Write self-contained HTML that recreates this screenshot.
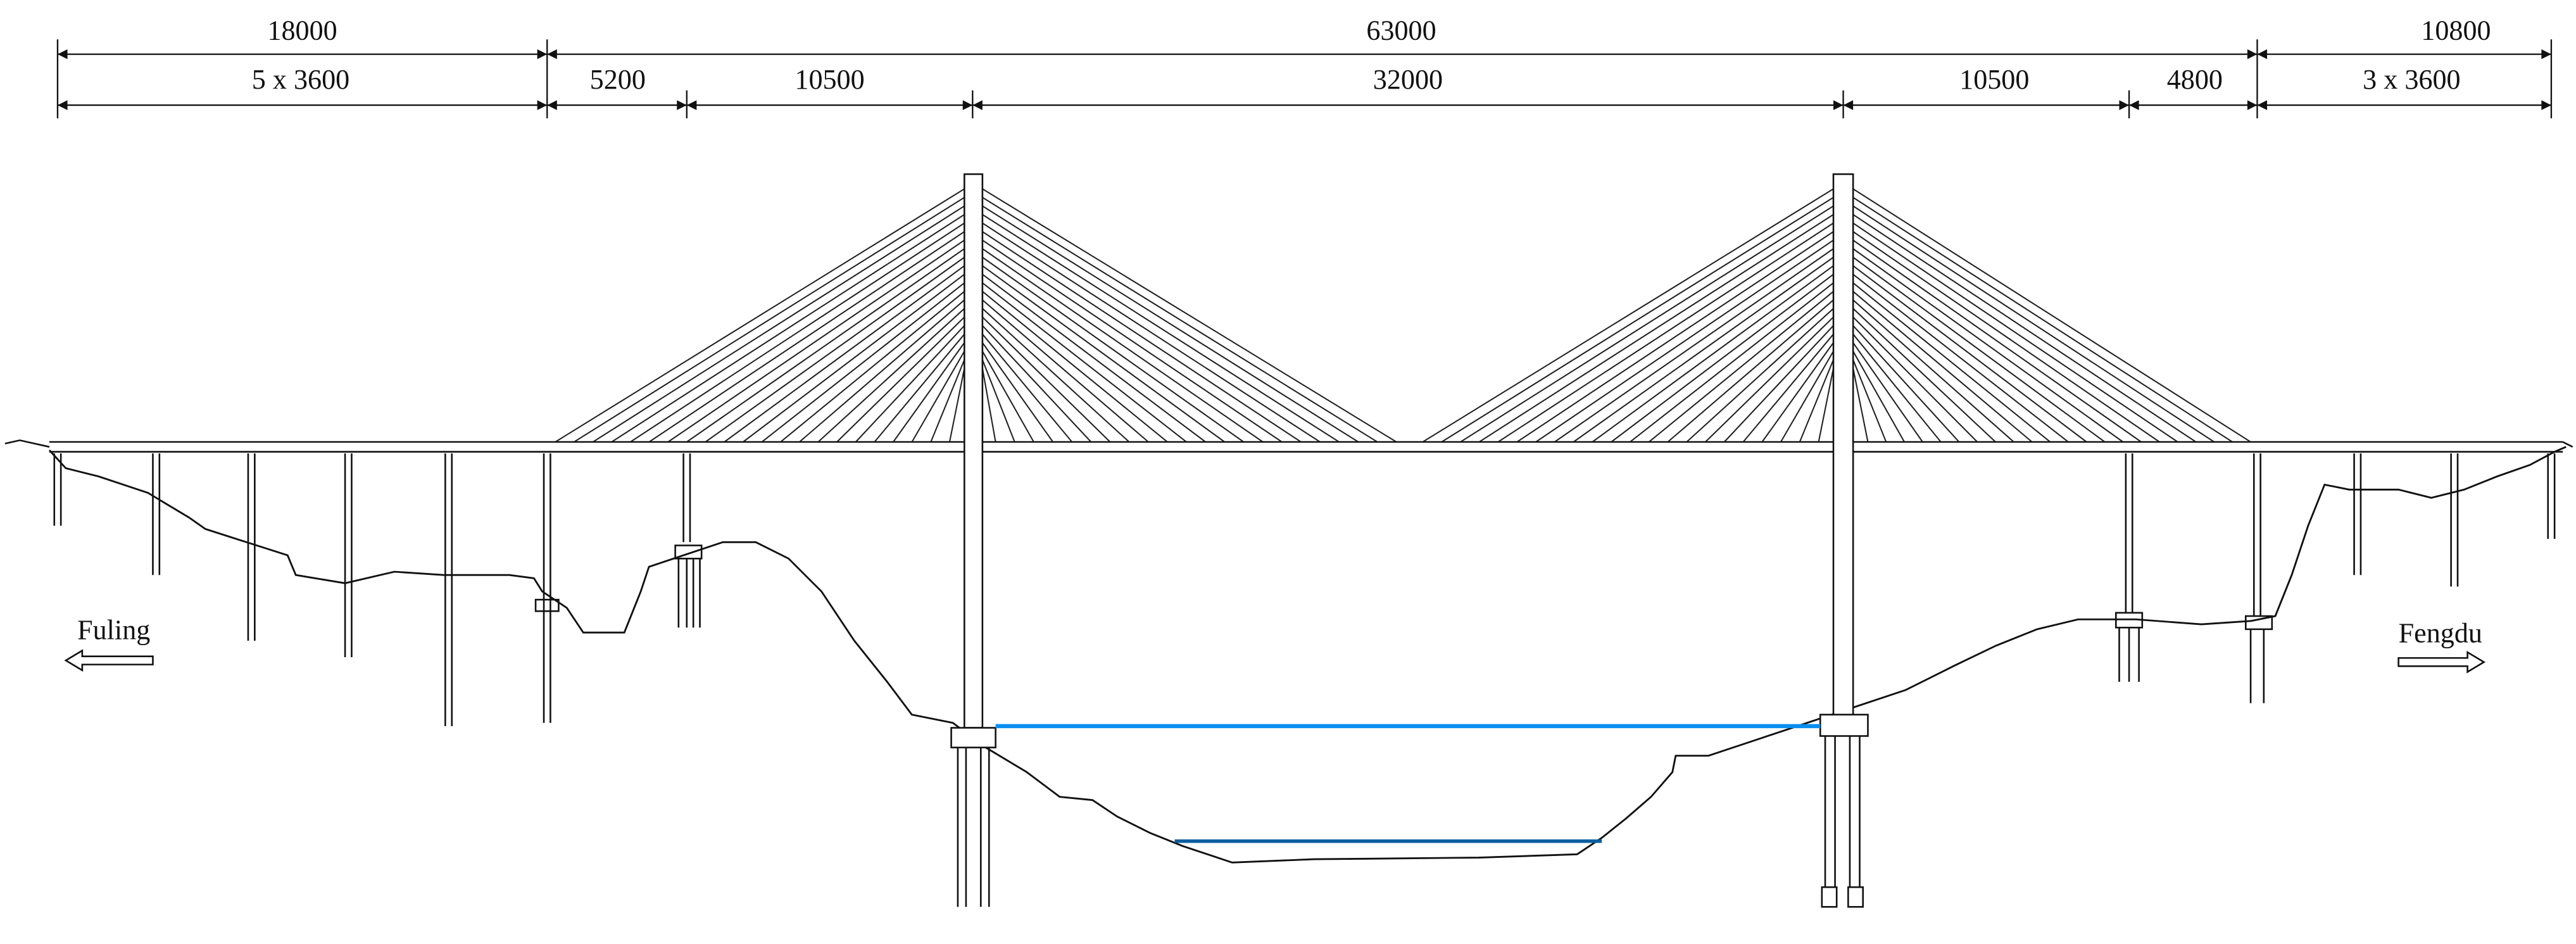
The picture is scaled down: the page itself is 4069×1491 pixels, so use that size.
<!DOCTYPE html>
<html><head><meta charset="utf-8"><style>
html,body{margin:0;padding:0;background:#fff;}
svg{display:block;}
text{font-family:"Liberation Serif",serif;font-size:17px;fill:#111;}
</style></head><body>
<svg id="s" width="4069" height="1491" viewBox="0 0 1568 574.6" xmlns="http://www.w3.org/2000/svg">
<defs>
<marker id="a" viewBox="0 0 10 10" refX="10" refY="5" markerWidth="7" markerHeight="6" orient="auto-start-reverse" markerUnits="userSpaceOnUse"><path d="M0,0 L10,5 L0,10z" fill="#111"/></marker>
</defs>
<g stroke="#111" stroke-width="0.9" fill="none">
<path d="M35,24V72 M333,24V72 M418,55V72 M592,55V72 M1122,55V72 M1296,55V72 M1374,24V72 M1553,24V72"/>
<line x1="35" y1="33" x2="333" y2="33" marker-start="url(#a)" marker-end="url(#a)"/>
<line x1="333" y1="33" x2="1374" y2="33" marker-start="url(#a)" marker-end="url(#a)"/>
<line x1="1374" y1="33" x2="1553" y2="33" marker-start="url(#a)" marker-end="url(#a)"/>
<line x1="35" y1="64" x2="333" y2="64" marker-start="url(#a)" marker-end="url(#a)"/>
<line x1="333" y1="64" x2="418" y2="64" marker-start="url(#a)" marker-end="url(#a)"/>
<line x1="418" y1="64" x2="592" y2="64" marker-start="url(#a)" marker-end="url(#a)"/>
<line x1="592" y1="64" x2="1122" y2="64" marker-start="url(#a)" marker-end="url(#a)"/>
<line x1="1122" y1="64" x2="1296" y2="64" marker-start="url(#a)" marker-end="url(#a)"/>
<line x1="1296" y1="64" x2="1374" y2="64" marker-start="url(#a)" marker-end="url(#a)"/>
<line x1="1374" y1="64" x2="1553" y2="64" marker-start="url(#a)" marker-end="url(#a)"/>
</g>
<text x="184" y="24" text-anchor="middle">18000</text>
<text x="853" y="24" text-anchor="middle">63000</text>
<text x="1495" y="24" text-anchor="middle">10800</text>
<text x="183" y="54" text-anchor="middle">5 x 3600</text>
<text x="376" y="54" text-anchor="middle">5200</text>
<text x="505" y="54" text-anchor="middle">10500</text>
<text x="857" y="54" text-anchor="middle">32000</text>
<text x="1214" y="54" text-anchor="middle">10500</text>
<text x="1336" y="54" text-anchor="middle">4800</text>
<text x="1468" y="54" text-anchor="middle">3 x 3600</text>

<g id="cab" stroke="#222" stroke-width="0.8" fill="none"></g>

<g stroke="#111" stroke-width="1" fill="none">
<path d="M30,269 L1560,269 M30,275 L1560,275"/>
<path d="M3,270 L12,268 L30,272 M1560,269 L1566,272"/>
<polyline stroke-width="1.1" points="30,274 40,285 60,290 90,300 115,315 125,322 150,330 175,338 180,350 210,355 240,348 270,350 310,350 325,352 330,360 345,370 355,385 380,385 390,360 395,345 410,340 440,330 460,330 480,340 500,360 520,390 540,415 555,435 580,440 600,455 625,470 645,485 665,487 680,497 700,507 720,515 750,525 800,523 900,522 960,520 975,510 990,498 1005,485 1018,470 1020,460 1040,460 1070,450 1100,440 1130,430 1160,420 1190,405 1215,393 1240,383 1265,377 1300,377 1340,380 1370,378 1385,375 1395,350 1405,320 1415,295 1430,298 1460,298 1480,303 1500,298 1520,290 1540,283 1555,275 1562,272"/>
<path d="M33,276V320 M37,276V320 M93,276V350 M97,276V350 M151,276V390 M155,276V390 M210,276V400 M214,276V400 M271,276V442 M275,276V442 M331,276V440 M335,276V440"/>
<rect x="326" y="365" width="14" height="7"/>
<path d="M416,276V330 M420,276V330 M413,340V382 M418,340V382 M422,340V382 M426,340V382"/>
<rect x="411" y="332" width="16" height="8"/>
<path d="M1294,276V373 M1298,276V373 M1290,382V415 M1296,382V415 M1302,382V415"/>
<rect x="1288" y="373" width="16" height="9"/>
<path d="M1372,276V375 M1376,276V375 M1370,383V428 M1378,383V428"/>
<rect x="1367" y="375" width="16" height="8"/>
<path d="M1433,276V350 M1437,276V350 M1492,276V357 M1496,276V357 M1551,276V328 M1555,276V328"/>
<rect x="587" y="106" width="11" height="337" fill="#fff"/>
<rect x="579" y="443" width="27" height="12" fill="#fff"/>
<path d="M583,455V552 M588,455V552 M597,455V552 M602,455V552"/>
<rect x="1116" y="106" width="12" height="329" fill="#fff"/>
<rect x="1108" y="435" width="29" height="13" fill="#fff"/>
<path d="M1111,448V540 M1117,448V540 M1126,448V540 M1132,448V540"/>
<rect x="1109" y="540" width="9" height="12"/><rect x="1125" y="540" width="9" height="12"/>
<path d="M40,402 L50,396 L50,399.5 L93,399.5 L93,404.5 L50,404.5 L50,408 Z"/>
<path d="M1512,403 L1502,397 L1502,400.5 L1460,400.5 L1460,405.5 L1502,405.5 L1502,409 Z"/>
</g>
<line x1="606" y1="442" x2="1108" y2="442" stroke="#0a8ef0" stroke-width="2.5"/>
<line x1="715" y1="512" x2="975" y2="512" stroke="#0a5e9e" stroke-width="2.2"/>
<text x="47" y="389">Fuling</text>
<text x="1460" y="391">Fengdu</text>
</svg>
<script>
(function(){
var g=document.getElementById('cab'),n=22,NS='http://www.w3.org/2000/svg';
function fan(tx,x0,x1){for(var i=0;i<n;i++){var ty=115+i*5.2;var t=i/(n-1);var dx=x0+(x1-x0)*t;var l=document.createElementNS(NS,'line');l.setAttribute('x1',tx);l.setAttribute('y1',ty);l.setAttribute('x2',dx.toFixed(1));l.setAttribute('y2',269);g.appendChild(l);}}
fan(587,338,578);fan(598,850,606);fan(1116,866,1107);fan(1128,1370,1137);
})();
</script>
</body></html>
